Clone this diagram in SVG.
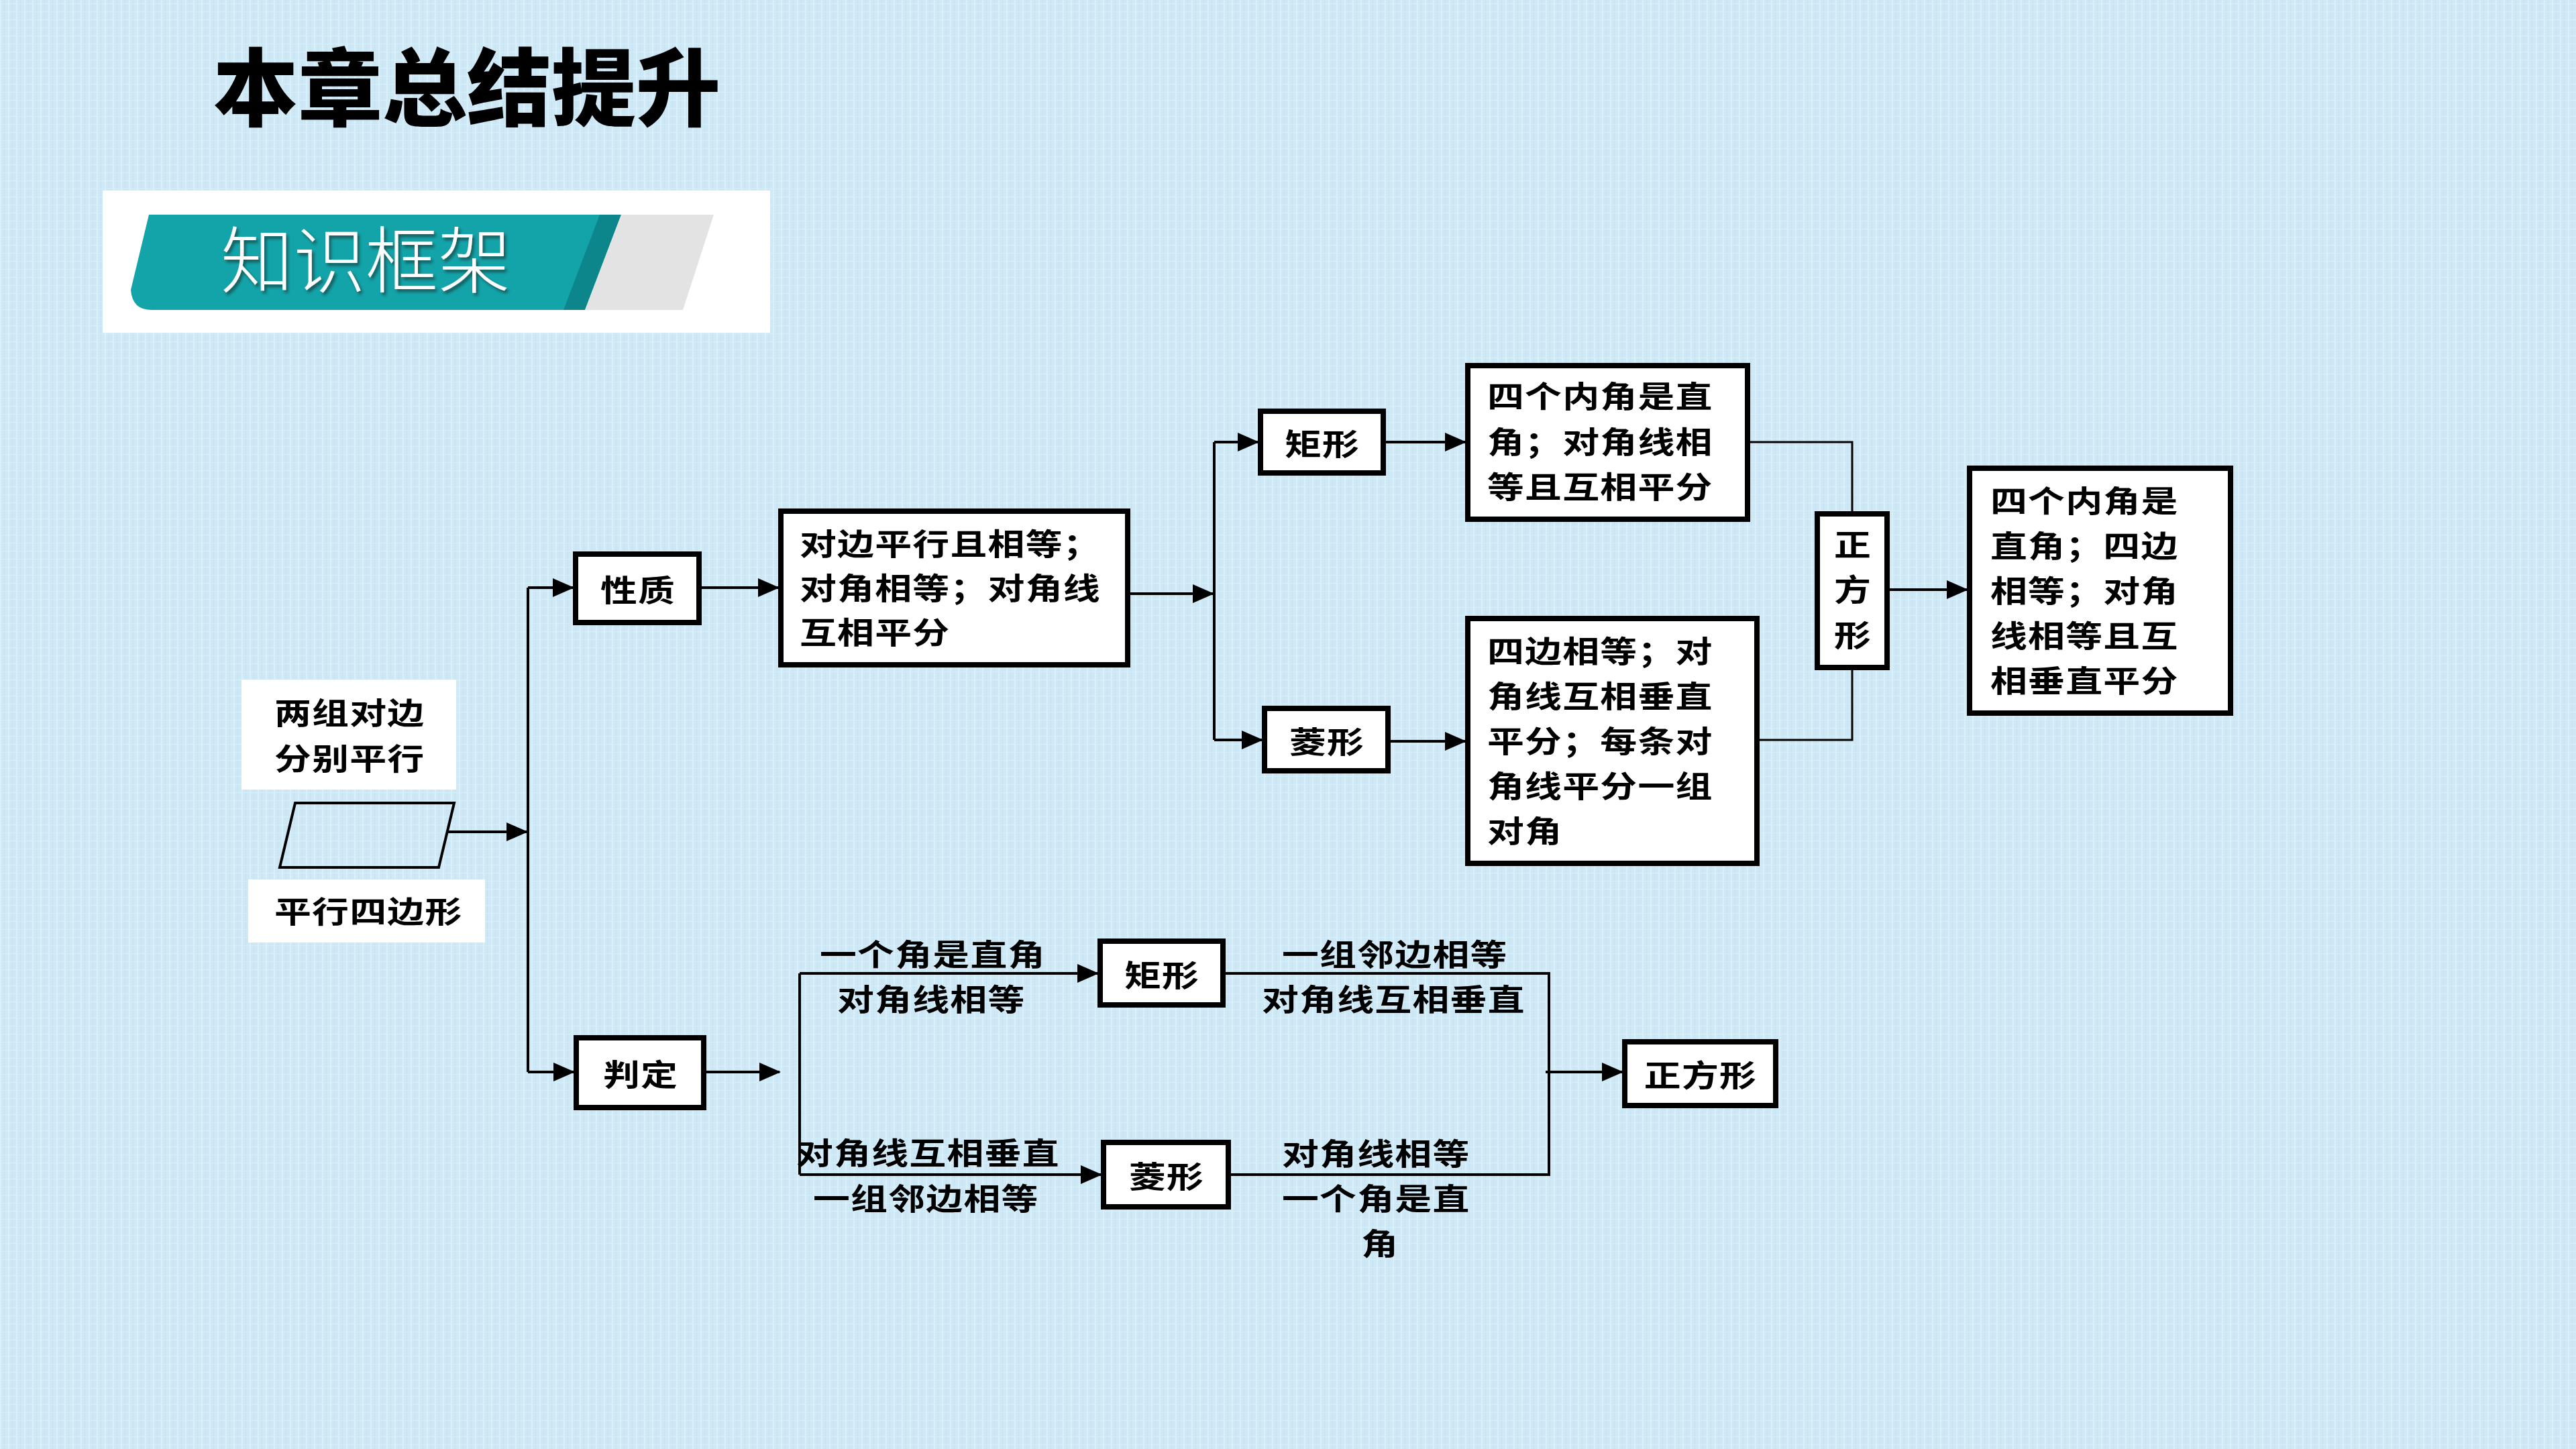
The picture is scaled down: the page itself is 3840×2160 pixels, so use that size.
<svg xmlns="http://www.w3.org/2000/svg" width="3840" height="2160" viewBox="0 0 3840 2160">
<defs>
<style>
.t{font-family:"Noto Sans CJK SC","Noto Sans CJK TC",sans-serif;font-size:45px;font-weight:700;letter-spacing:1px;fill:#000}
.c{text-anchor:middle;dominant-baseline:central}
.box{fill:#fff;stroke:#000;stroke-width:8}
.ln{fill:none;stroke:#000;stroke-width:4}
.arr{fill:none;stroke:#000;stroke-width:4;marker-end:url(#ah)}
.thin{fill:none;stroke:#000;stroke-width:3}
</style>
<marker id="ah" markerUnits="userSpaceOnUse" markerWidth="32" markerHeight="28" refX="30" refY="14" orient="auto">
<path d="M0,0 L32,14 L0,28 Z" fill="#000"/>
</marker>
<pattern id="tex" width="12" height="12" patternUnits="userSpaceOnUse">
<rect width="12" height="12" fill="#cfe8f5"/>
<rect x="0" y="0" width="2" height="12" fill="#d9effa"/>
<rect x="6" y="0" width="1" height="12" fill="#c6e1f0"/>
<rect x="0" y="5" width="12" height="1" fill="#d8eef9"/>
</pattern>
<filter id="sh" x="-10%" y="-10%" width="130%" height="130%">
<feDropShadow dx="3" dy="4" stdDeviation="2" flood-color="#1a3a3a" flood-opacity="0.75"/>
</filter>
</defs>
<rect width="3840" height="2160" fill="url(#tex)"/>

<g id="title">
<text x="318" y="178" style="font-family:'Noto Sans CJK SC',sans-serif;font-size:126px;font-weight:900;fill:#000">本章总结提升</text>
</g>

<g id="banner">
<rect x="153" y="284" width="995" height="212" fill="#fff"/>
<path d="M222,320 L926,320 L872,462 L226,462 Q197,462 195,432 Z" fill="#13a4a9"/>
<polygon points="894,320 926,320 872,462 840,462" fill="#0c858b"/>
<polygon points="926,320 1064,320 1018,462 872,462" fill="#e3e3e3"/>
<text x="329" y="428" filter="url(#sh)" style="font-family:'Noto Sans CJK SC',sans-serif;font-size:108px;font-weight:300;fill:#fff">知识框架</text>
</g>

<g id="connectors">
<line class="ln" x1="787" y1="876" x2="787" y2="1598"/>
<line class="arr" x1="787" y1="876" x2="854" y2="876"/>
<line class="arr" x1="787" y1="1598" x2="855" y2="1598"/>
<line class="arr" x1="667" y1="1240" x2="785" y2="1240"/>
<line class="arr" x1="1046" y1="876" x2="1160" y2="876"/>
<line class="arr" x1="1685" y1="885" x2="1808" y2="885"/>
<line class="ln" x1="1810" y1="659" x2="1810" y2="1103"/>
<line class="arr" x1="1810" y1="659" x2="1875" y2="659"/>
<line class="arr" x1="1810" y1="1103" x2="1881" y2="1103"/>
<line class="arr" x1="2066" y1="659" x2="2184" y2="659"/>
<line class="arr" x1="2073" y1="1105" x2="2184" y2="1105"/>
<polyline class="thin" points="2609,659 2761,659 2761,762"/>
<polyline class="thin" points="2623,1103 2761,1103 2761,999"/>
<line class="arr" x1="2817" y1="879" x2="2932" y2="879"/>
<line class="arr" x1="1053" y1="1598" x2="1162" y2="1598"/>
<line class="ln" x1="1192" y1="1451" x2="1192" y2="1751"/>
<line class="arr" x1="1192" y1="1451" x2="1636" y2="1451"/>
<line class="arr" x1="1192" y1="1751" x2="1641" y2="1751"/>
<polyline class="ln" points="1827,1451 2309,1451 2309,1751 1835,1751"/>
<line class="arr" x1="2304" y1="1598" x2="2418" y2="1598"/>
</g>

<g id="cond-label">
<rect x="360" y="1013" width="320" height="164" fill="#fff"/>
<g transform="translate(409,0) scale(1.22,1)"><text class="t"><tspan x="0" y="1080">两组对边</tspan><tspan x="0" y="1148">分别平行</tspan></text></g>
</g>
<g id="parallelogram">
<polygon points="440,1197 677,1197 654,1293 417,1293" fill="none" stroke="#000" stroke-width="4"/>
</g>
<g id="pxsbx-label">
<rect x="370" y="1311" width="353" height="94" fill="#fff"/>
<g transform="translate(409,0) scale(1.22,1)"><text class="t" x="0" y="1376">平行四边形</text></g>
</g>

<g id="node-xingzhi">
<rect class="box" x="858" y="826" width="184" height="102"/>
<g transform="translate(951,0) scale(1.22,1)"><text class="t c" x="0" y="877">性质</text></g>
</g>
<g id="node-panding">
<rect class="box" x="859" y="1547" width="190" height="104"/>
<g transform="translate(955,0) scale(1.22,1)"><text class="t c" x="0" y="1599">判定</text></g>
</g>
<g id="node-prop">
<rect class="box" x="1164" y="762" width="517" height="229"/>
<g transform="translate(1192,0) scale(1.22,1)"><text class="t"><tspan x="0" y="828">对边平行且相等；</tspan><tspan x="0" y="894">对角相等；对角线</tspan><tspan x="0" y="960">互相平分</tspan></text></g>
</g>
<g id="node-juxing1">
<rect class="box" x="1879" y="613" width="183" height="92"/>
<g transform="translate(1971,0) scale(1.22,1)"><text class="t c" x="0" y="659">矩形</text></g>
</g>
<g id="node-lingxing1">
<rect class="box" x="1885" y="1056" width="184" height="93"/>
<g transform="translate(1978,0) scale(1.22,1)"><text class="t c" x="0" y="1103">菱形</text></g>
</g>
<g id="node-juxing-prop">
<rect class="box" x="2188" y="545" width="417" height="229"/>
<g transform="translate(2217,0) scale(1.22,1)"><text class="t"><tspan x="0" y="608">四个内角是直</tspan><tspan x="0" y="676">角；对角线相</tspan><tspan x="0" y="743">等且互相平分</tspan></text></g>
</g>
<g id="node-lingxing-prop">
<rect class="box" x="2188" y="922" width="431" height="365"/>
<g transform="translate(2217,0) scale(1.22,1)"><text class="t"><tspan x="0" y="988">四边相等；对</tspan><tspan x="0" y="1055">角线互相垂直</tspan><tspan x="0" y="1122">平分；每条对</tspan><tspan x="0" y="1189">角线平分一组</tspan><tspan x="0" y="1256">对角</tspan></text></g>
</g>
<g id="node-zfx1">
<rect class="box" x="2709" y="766" width="104" height="229"/>
<g transform="translate(2762,0) scale(1.22,1)"><text class="t" text-anchor="middle"><tspan x="0" y="829">正</tspan><tspan x="0" y="896">方</tspan><tspan x="0" y="964">形</tspan></text></g>
</g>
<g id="node-zfx-prop">
<rect class="box" x="2936" y="698" width="389" height="365"/>
<g transform="translate(2967,0) scale(1.22,1)"><text class="t"><tspan x="0" y="764">四个内角是</tspan><tspan x="0" y="831">直角；四边</tspan><tspan x="0" y="898">相等；对角</tspan><tspan x="0" y="965">线相等且互</tspan><tspan x="0" y="1032">相垂直平分</tspan></text></g>
</g>
<g id="node-juxing2">
<rect class="box" x="1640" y="1403" width="183" height="95"/>
<g transform="translate(1732,0) scale(1.22,1)"><text class="t c" x="0" y="1451">矩形</text></g>
</g>
<g id="node-lingxing2">
<rect class="box" x="1645" y="1703" width="186" height="96"/>
<g transform="translate(1739,0) scale(1.22,1)"><text class="t c" x="0" y="1751">菱形</text></g>
</g>
<g id="node-zfx2">
<rect class="box" x="2422" y="1553" width="225" height="95"/>
<g transform="translate(2535,0) scale(1.22,1)"><text class="t c" x="0" y="1600">正方形</text></g>
</g>
<g id="edge-labels">
<g transform="translate(1222,0) scale(1.22,1)"><text class="t"><tspan x="0" y="1440">一个角是直角</tspan><tspan x="21.3" y="1507">对角线相等</tspan></text></g>
<g transform="translate(1881,0) scale(1.22,1)"><text class="t"><tspan x="24.6" y="1440">一组邻边相等</tspan><tspan x="0" y="1507">对角线互相垂直</tspan></text></g>
<g transform="translate(1187,0) scale(1.22,1)"><text class="t"><tspan x="0" y="1736">对角线互相垂直</tspan><tspan x="20.5" y="1804">一组邻边相等</tspan></text></g>
<g transform="translate(1911,0) scale(1.22,1)"><text class="t"><tspan x="0" y="1737">对角线相等</tspan><tspan x="0" y="1804">一个角是直</tspan><tspan x="96.7" y="1871">角</tspan></text></g>
</g>
</svg>
